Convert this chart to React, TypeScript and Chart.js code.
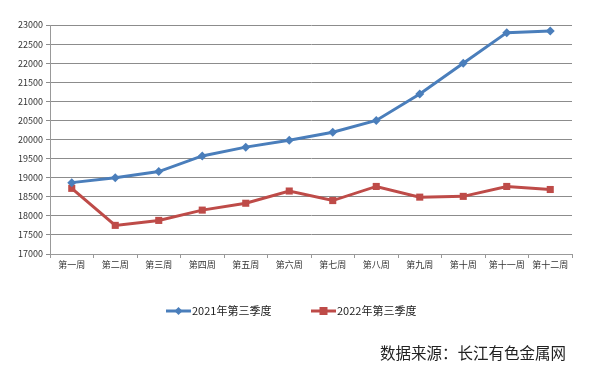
import React, { useEffect, useRef } from "react";
import { Chart, registerables } from "chart.js";

Chart.register(...registerables);

const categories = ["第一周", "第二周", "第三周", "第四周", "第五周", "第六周", "第七周", "第八周", "第九周", "第十周", "第十一周", "第十二周"];
const series2021 = [18870, 19000, 19160, 19570, 19800, 19980, 20190, 20500, 21190, 22000, 22800, 22840];
const series2022 = [18720, 17750, 17880, 18150, 18330, 18650, 18400, 18770, 18490, 18510, 18770, 18690];
const seriesNames = ["2021年第三季度", "2022年第三季度"];
const sourceText = "数据来源：长江有色金属网";

const BLUE = "#4A7EBB";
const RED = "#BE4B48";
const FONT = "'Noto Sans CJK SC', 'Noto Sans', sans-serif";

const legendPlugin = {
  id: "customLegend",
  afterDraw(chart: any) {
    const ctx = chart.ctx;
    const y = 311;
    const items = [
      { x1: 166, x2: 191, color: BLUE, shape: "diamond", text: seriesNames[0] },
      { x1: 311, x2: 336, color: RED, shape: "square", text: seriesNames[1] },
    ];
    ctx.save();
    for (const it of items) {
      ctx.strokeStyle = it.color;
      ctx.lineWidth = 3;
      ctx.beginPath();
      ctx.moveTo(it.x1, y);
      ctx.lineTo(it.x2, y);
      ctx.stroke();
      const cx = (it.x1 + it.x2) / 2;
      ctx.fillStyle = it.color;
      if (it.shape === "diamond") {
        ctx.beginPath();
        ctx.moveTo(cx, y - 4);
        ctx.lineTo(cx + 4, y);
        ctx.lineTo(cx, y + 4);
        ctx.lineTo(cx - 4, y);
        ctx.closePath();
        ctx.fill();
      } else {
        ctx.fillRect(cx - 4, y - 4, 8, 8);
      }
      ctx.fillStyle = "#222";
      ctx.font = `11px ${FONT}`;
      ctx.textBaseline = "middle";
      ctx.textAlign = "left";
      ctx.fillText(it.text, it.x2 + 1, y);
    }
    ctx.restore();
  },
};

export default function App() {
  const ref = useRef<HTMLCanvasElement | null>(null);
  useEffect(() => {
    if (!ref.current) return;
    const chart = new Chart(ref.current, {
      type: "line",
      data: {
        labels: categories,
        datasets: [
          {
            label: seriesNames[0],
            data: series2021,
            borderColor: BLUE,
            backgroundColor: BLUE,
            borderWidth: 3,
            pointStyle: "rectRot",
            pointRadius: 4.5,
            pointBorderWidth: 0,
            tension: 0,
          },
          {
            label: seriesNames[1],
            data: series2022,
            borderColor: RED,
            backgroundColor: RED,
            borderWidth: 3,
            pointStyle: "rect",
            pointRadius: 5,
            pointBorderWidth: 0,
            tension: 0,
          },
        ],
      },
      options: {
        animation: false,
        responsive: false,
        maintainAspectRatio: false,
        layout: { padding: { left: 0, right: 17, top: 25, bottom: 0 } },
        plugins: { legend: { display: false }, tooltip: { enabled: false } },
        scales: {
          x: {
            type: "category",
            offset: true,
            afterFit: (s: any) => { s.height = 113; },
            grid: { offset: true, drawOnChartArea: false, drawTicks: true, tickLength: 4, color: "#999" },
            border: { color: "#999" },
            ticks: { color: "#333", font: { size: 9, family: FONT }, maxRotation: 0, autoSkip: false, padding: 1 },
          },
          y: {
            min: 17000,
            max: 23000,
            afterFit: (s: any) => { s.width = 50; },
            grid: { color: "#8c8c8c", tickLength: 4, lineWidth: 1 },
            border: { color: "#999" },
            ticks: {
              stepSize: 500,
              color: "#333",
              font: { size: 9, family: FONT },
              padding: 3,
              callback: (v: any) => String(v),
            },
          },
        },
      },
      plugins: [legendPlugin],
    } as any);
    return () => chart.destroy();
  }, []);
  return (
    <div style={{ position: "fixed", left: 0, top: 0, width: 589, height: 367, background: "#fff" }}>
      <canvas ref={ref} width={589} height={367} style={{ position: "absolute", left: 0, top: 0 }} />
      <div
        style={{
          position: "absolute",
          left: 380,
          top: 341,
          fontFamily: FONT,
          fontSize: 15.5,
          color: "#222",
          whiteSpace: "nowrap",
          lineHeight: "22px",
        }}
      >
        {sourceText}
      </div>
    </div>
  );
}
